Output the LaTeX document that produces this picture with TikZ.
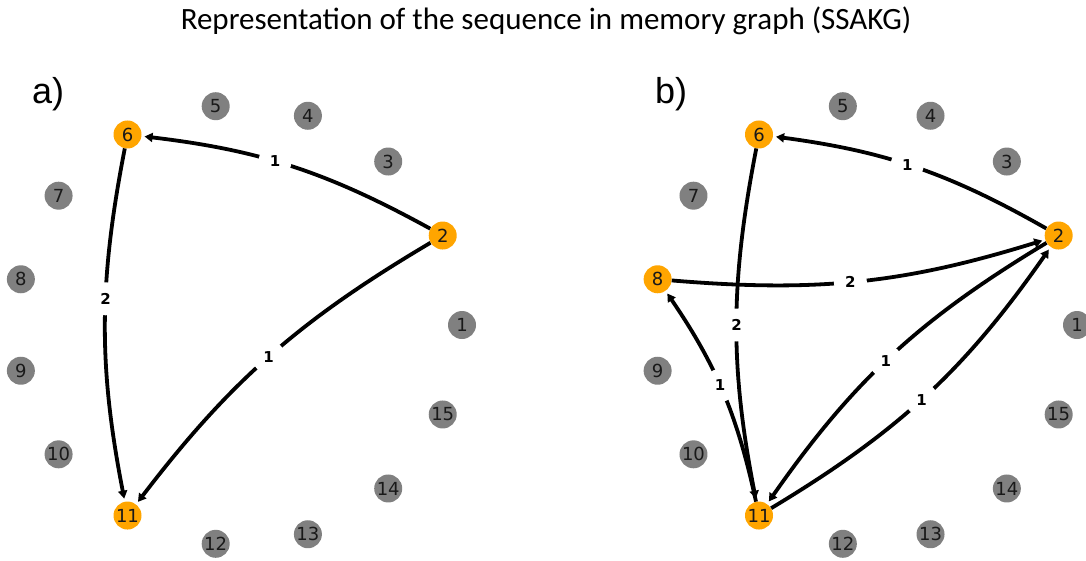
\documentclass[tikz,border=0pt]{standalone}
\usepackage{fontspec}
\setmainfont{DejaVu Sans}
\newfontfamily\titlefont{Carlito}
\newfontfamily\panelfont{Liberation Sans}
\usetikzlibrary{arrows.meta}
\definecolor{nxorange}{RGB}{255,165,0}
\definecolor{nxgray}{RGB}{128,128,128}
\begin{document}
\begin{tikzpicture}[x=1pt,y=1pt,
  vnode/.style={circle,inner sep=0pt,minimum size=28pt,font=\fontsize{18}{18}\selectfont,text=black!90},
  gnode/.style={vnode,fill=nxgray},
  onode/.style={vnode,fill=nxorange},
  edge/.style={line width=3.8pt,-{Triangle[length=8pt,width=9pt]},shorten >=3pt,black},
  elabel/.style={circle,fill=white,inner sep=0pt,minimum size=33pt,font=\bfseries\fontsize{15}{15}\selectfont,text=black},
  paneltitle/.style={font=\panelfont\fontsize{36}{36}\selectfont,anchor=base west,inner sep=0pt}]
\useasboundingbox (0,0) rectangle (1086,-560);
\node[font=\titlefont\fontsize{31}{31}\selectfont,anchor=base,inner sep=0pt] (title) at (546,-29) {Representation of the sequence in memory graph (SSAKG)};
\node[paneltitle] (la) at (32,-103) {a)};
\node[paneltitle] (lb) at (655,-103) {b)};
% panel a nodes
\foreach \k/\s in {1/gnode,2/onode,3/gnode,4/gnode,5/gnode,6/onode,7/gnode,8/gnode,9/gnode,10/gnode,11/onode,12/gnode,13/gnode,14/gnode,15/gnode}{
  \node[\s] (a\k) at ({239+223*cos((\k-1)*24)},{-325+220*sin((\k-1)*24)}) {\k};
}
% panel b nodes
\foreach \k/\s in {1/gnode,2/onode,3/gnode,4/gnode,5/gnode,6/onode,7/gnode,8/onode,9/gnode,10/gnode,11/onode,12/gnode,13/gnode,14/gnode,15/gnode}{
  \node[\s] (b\k) at ({865+212*cos((\k-1)*24)},{-325+220*sin((\k-1)*24)}) {\k};
}
% panel a edges
\draw[edge] (a2) to[bend right=11] node[elabel,pos=0.56]{1} (a6);
\draw[edge] (a6) to[bend right=11] node[elabel,pos=0.42]{2} (a11);
\draw[edge] (a2) to[bend right=11] node[elabel,pos=0.5]{1} (a11);
% panel b edges
\draw[edge] (b2) to[bend right=11] node[elabel,pos=0.53]{1} (b6);
\draw[edge] (b6) to[bend right=11] node[elabel,pos=0.5]{2} (b11);
\draw[edge] (b8) to[bend right=11] node[elabel,pos=0.47]{2} (b2);
\draw[edge] (b11) to[bend right=11] node[elabel,pos=0.53]{1} (b8);
\draw[edge] (b2) to[bend right=12] node[elabel,pos=0.52]{1} (b11);
\draw[edge] (b11) to[bend right=12] node[elabel,pos=0.48]{1} (b2);
\end{tikzpicture}
\end{document}
